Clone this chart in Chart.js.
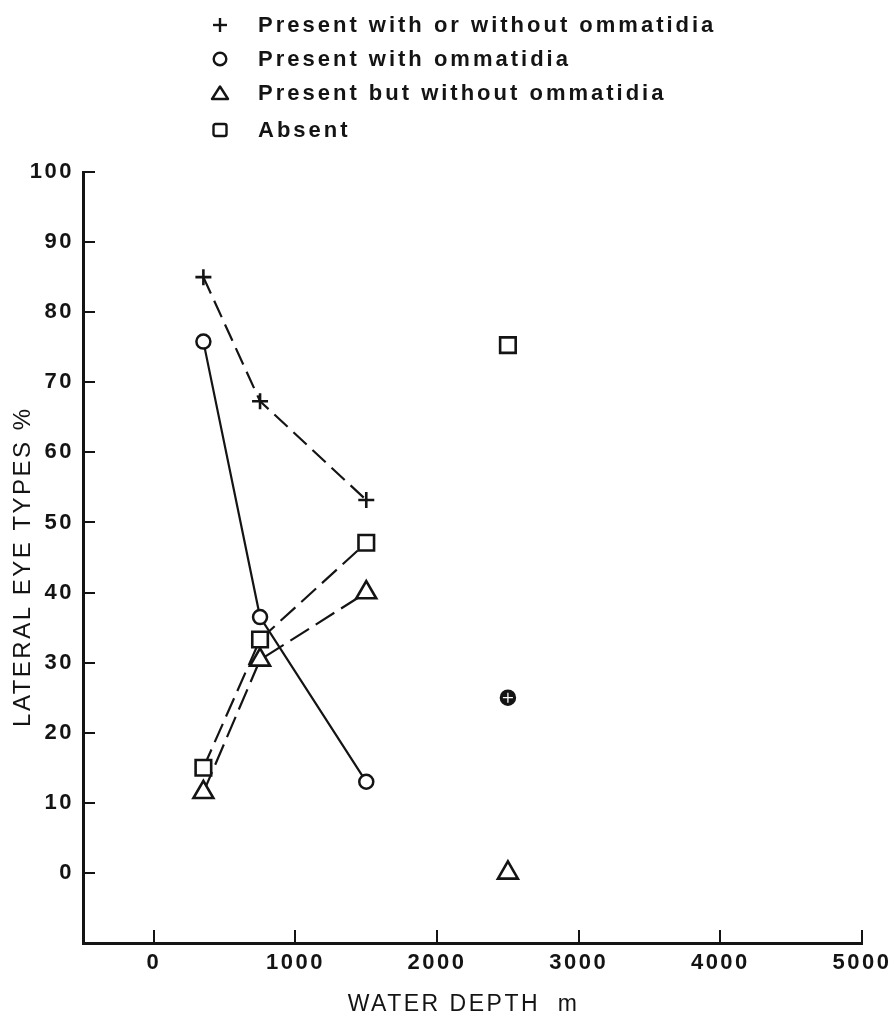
<!DOCTYPE html>
<html>
<head>
<meta charset="utf-8">
<script src="https://cdn.jsdelivr.net/npm/chart.js@4/dist/chart.umd.min.js"></script>
<style>
html,body{margin:0;padding:0;background:#fff;}
#wrap{position:relative;width:894px;height:1013px;overflow:hidden;}
#c{position:absolute;left:0;top:0;}
.leg{position:absolute;left:209px;height:30px;display:flex;align-items:center;color:#141414;white-space:nowrap;}
.leg svg{width:22px;height:22px;margin-right:27px;flex:none;}
.leg span{font:bold 22px 'Liberation Sans',Arial,sans-serif;letter-spacing:3px;}
</style>
</head>
<body>
<div id="wrap">
<canvas id="c" width="894" height="1013"></canvas>
<div id="legend"></div>
</div>
<script>
// ---- data ----
const depths = [350, 750, 1500, 2500];
const presentAny = [85, 67.3, 53.2, 25];
const presentWith = [75.8, 36.5, 13, 25];
const presentWithout = [11.5, 30.4, 40, 0];
const absent = [15, 33.3, 47.1, 75.3];
const seriesNames = [
  'Present with or without ommatidia',
  'Present with ommatidia',
  'Present but without ommatidia',
  'Absent'
];
const xTicks = [0, 1000, 2000, 3000, 4000, 5000];
const yTicks = [0, 10, 20, 30, 40, 50, 60, 70, 80, 90, 100];
const xTitle = 'WATER DEPTH  m';
const yTitle = 'LATERAL EYE TYPES %';

// ---- legend (HTML) ----
const INK = '#141414';
const legendIcons = [
  '<line x1="4" y1="11" x2="18" y2="11"/><line x1="11" y1="4" x2="11" y2="18"/>',
  '<circle cx="11" cy="11" r="6.3"/>',
  '<polygon points="11,4.5 19,17 3,17" stroke-linejoin="round"/>',
  '<rect x="4.5" y="5" width="13" height="12" rx="2"/>'
];
const legendTops = [10, 44, 78, 115];
const legendEl = document.getElementById('legend');
seriesNames.forEach((name, i) => {
  const row = document.createElement('div');
  row.className = 'leg';
  row.style.top = legendTops[i] + 'px';
  row.innerHTML = '<svg viewBox="0 0 22 22" fill="none" stroke="' + INK + '" stroke-width="2.4">' +
    legendIcons[i] + '</svg><span>' + name + '</span>';
  legendEl.appendChild(row);
});

// ---- chart ----
const mk = vals => depths.map((d, i) => ({x: d, y: vals[i]}));
const breakLast = ctx => ctx.p1DataIndex === depths.length - 1 ? 'rgba(0,0,0,0)' : INK;

const spacingPlugin = {
  id: 'spacing',
  beforeDraw(chart) { chart.ctx.letterSpacing = '2.5px'; },
  afterDraw(chart) { chart.ctx.letterSpacing = '0px'; }
};

const tickFont = {family: "'Liberation Sans', Arial, sans-serif", size: 22, weight: 'bold'};
const titleFont = {family: "'Liberation Sans', Arial, sans-serif", size: 23, weight: 'normal'};

new Chart(document.getElementById('c'), {
  type: 'line',
  data: {
    datasets: [
      {
        label: seriesNames[0], data: mk(presentAny),
        borderColor: INK, borderWidth: 2.2, borderDash: [18, 8],
        pointStyle: 'cross', pointRadius: [8, 8, 8, 5], pointBorderWidth: [2.6, 2.6, 2.6, 1.3],
        pointBorderColor: [INK, INK, INK, '#fff'],
        segment: {borderColor: breakLast}
      },
      {
        label: seriesNames[1], data: mk(presentWith),
        borderColor: INK, borderWidth: 2.2,
        pointStyle: 'circle', pointRadius: 7, pointBorderWidth: 2.5,
        pointBorderColor: INK, pointBackgroundColor: ['#fff', '#fff', '#fff', INK],
        segment: {borderColor: breakLast}
      },
      {
        label: seriesNames[2], data: mk(presentWithout),
        borderColor: INK, borderWidth: 2.2, borderDash: [22, 8],
        pointStyle: 'triangle', pointRadius: 11.5, pointBorderWidth: 2.6,
        pointBorderColor: INK, pointBackgroundColor: '#fff',
        segment: {borderColor: breakLast}
      },
      {
        label: seriesNames[3], data: mk(absent),
        borderColor: INK, borderWidth: 2.2, borderDash: [20, 8],
        pointStyle: 'rect', pointRadius: 11, pointBorderWidth: 2.6,
        pointBorderColor: INK, pointBackgroundColor: '#fff',
        segment: {borderColor: breakLast}
      }
    ]
  },
  options: {
    responsive: false,
    animation: false,
    devicePixelRatio: 1,
    events: [],
    layout: {padding: {top: 172, right: 32, bottom: 0, left: 0}},
    plugins: {legend: {display: false}, tooltip: {enabled: false}, title: {display: false}},
    scales: {
      x: {
        type: 'linear', min: -500, max: 5000,
        afterBuildTicks: s => { s.ticks = xTicks.map(v => ({value: v})); },
        afterFit: s => { s.height = 70; s.paddingLeft = 0; s.paddingRight = 0; },
        grid: {drawOnChartArea: false, drawTicks: true, tickLength: -13, color: INK, lineWidth: 2},
        border: {display: true, color: INK, width: 3},
        ticks: {color: INK, font: tickFont, padding: 20, maxRotation: 0, autoSkip: false,
                callback: v => String(v)},
        title: {display: true, text: xTitle + '  ', color: INK, font: titleFont, padding: {top: 0, bottom: -5}}
      },
      y: {
        type: 'linear', min: -10, max: 100,
        afterBuildTicks: s => { s.ticks = yTicks.map(v => ({value: v})); },
        afterFit: s => { s.width = 83; s.paddingTop = 0; s.paddingBottom = 0; },
        grid: {drawOnChartArea: false, drawTicks: true, tickLength: -12, color: INK, lineWidth: 2},
        border: {display: true, color: INK, width: 3},
        ticks: {color: INK, font: tickFont, padding: 21, autoSkip: false, callback: v => String(v)},
        title: {display: true, text: yTitle + '  ', color: INK,
                font: {family: "'Liberation Sans', Arial, sans-serif", size: 24, weight: 'normal'},
                padding: {top: 9, bottom: 0}}
      }
    }
  },
  plugins: [spacingPlugin]
});
</script>
</body>
</html>
